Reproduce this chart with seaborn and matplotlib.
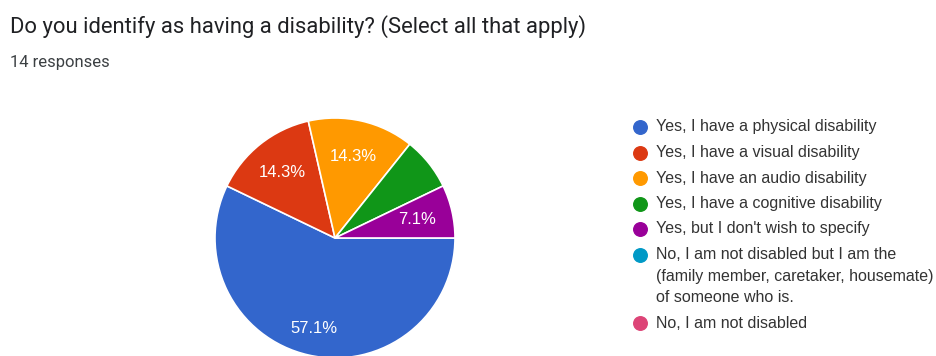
import numpy as np
import matplotlib
matplotlib.use("Agg")
import matplotlib.pyplot as plt
import seaborn as sns

sns.set_theme(style="white")
plt.rcParams["font.family"] = ["Liberation Sans", "DejaVu Sans"]

title = "Do you identify as having a disability? (Select all that apply)"
subtitle = "14 responses"

categories = [
    "Yes, I have a physical disability",
    "Yes, I have a visual disability",
    "Yes, I have an audio disability",
    "Yes, I have a cognitive disability",
    "Yes, but I don't wish to specify",
    "No, I am not disabled but I am the\n(family member, caretaker, housemate)\nof someone who is.",
    "No, I am not disabled",
]
counts = [8, 2, 2, 1, 1, 0, 0]
shown_labels = [True, True, True, False, True, False, False]
colors = ["#3366CC", "#DC3912", "#FF9900", "#109618", "#990099", "#0099C6", "#DD4477"]

W, H = 937, 356
fig = plt.figure(figsize=(W / 100, H / 100), dpi=100)
fig.patch.set_facecolor("white")

# pie axes: centre (335, 238) px, radius 120 px
cx, cy, r = 335, 238, 120
ax = fig.add_axes([(cx - r) / W, (H - cy - r) / H, 2 * r / W, 2 * r / H])

vals = [c for c in counts if c > 0]
cols = [colors[i] for i, c in enumerate(counts) if c > 0]
show = [shown_labels[i] for i, c in enumerate(counts) if c > 0]
wedges, _, autotexts = ax.pie(
    vals, colors=cols, startangle=0, counterclock=False, radius=1,
    autopct="%1.1f%%", pctdistance=0.70,
    wedgeprops=dict(edgecolor="white", linewidth=1.2),
    textprops=dict(color="white", fontsize=12),
)
ax.set_xlim(-1, 1)
ax.set_ylim(-1, 1)
ax.set_aspect("equal")
ax.axis("off")
for t, s in zip(autotexts, show):
    t.set_visible(s)
autotexts[0].set_position(np.array(autotexts[0].get_position()) * 0.77 / 0.70)
for w in wedges:
    w.set_clip_on(False)

# overlay in pixel coordinates for text and legend
ov = fig.add_axes([0, 0, 1, 1], facecolor="none")
ov.set_xlim(0, W)
ov.set_ylim(H, 0)
ov.axis("off")

ov.text(10, 27, title, fontsize=15.8, family=["Roboto", "DejaVu Sans"],
        color="#202124", va="center", ha="left")
ov.text(10, 62, subtitle, fontsize=12, family=["Roboto", "DejaVu Sans"],
        color="#3c4043", va="center", ha="left")

# legend
y = 127
for lab, col in zip(categories, colors):
    ov.scatter([640], [y], s=95, color=col, zorder=3, clip_on=False)
    lines = lab.split("\n")
    for k, line in enumerate(lines):
        ov.text(656, y + k * 21.5, line, fontsize=11.5, color="#333333",
                va="center", ha="left")
    y += 25.5 + 21.5 * (len(lines) - 1)

fig.savefig("out.png", dpi=100, facecolor="white")
